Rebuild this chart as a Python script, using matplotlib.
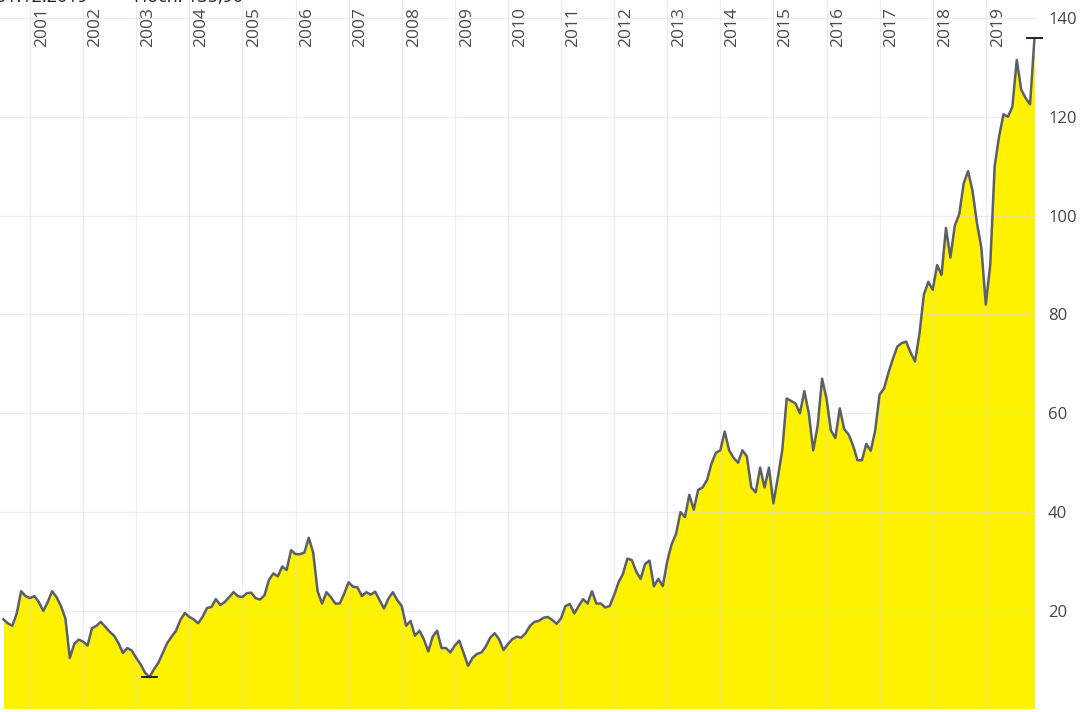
import numpy as np
import matplotlib
matplotlib.use("Agg")
import matplotlib.pyplot as plt

plt.rcParams['font.family'] = ['Open Sans', 'DejaVu Sans']

# monthly closing values, first point July 2000
kurs = [
    18.3, 17.5, 17.0, 19.5, 24.0, 23.0, 22.6, 23.0, 21.8, 20.0, 21.8, 24.0,
    22.8, 21.0, 18.5, 10.5, 13.3, 14.2, 13.8, 13.0, 16.5, 17.0, 17.8, 16.8,
    15.8, 15.0, 13.5, 11.5, 12.5, 12.0, 10.5, 9.2, 7.5, 6.6, 8.2, 9.5,
    11.5, 13.5, 14.8, 16.0, 18.2, 19.6, 18.8, 18.3, 17.5, 18.8, 20.6, 20.8,
    22.4, 21.2, 21.8, 22.8, 23.8, 23.0, 22.8, 23.6, 23.7, 22.6, 22.3, 23.2,
    26.3, 27.6, 27.0, 29.0, 28.3, 32.3, 31.5, 31.5, 31.8, 34.8, 31.8, 24.0,
    21.5, 23.8, 22.8, 21.5, 21.5, 23.5, 25.8, 24.9, 24.8, 23.0, 23.8, 23.3,
    23.9, 22.2, 20.5, 22.5, 23.8, 22.2, 21.0, 17.0, 18.0, 15.0, 16.0, 14.3,
    11.8, 14.8, 16.0, 12.5, 12.5, 11.6, 13.0, 14.0, 11.5, 8.9, 10.5, 11.3,
    11.6, 12.8, 14.6, 15.5, 14.3, 12.1, 13.3, 14.3, 14.8, 14.6, 15.5, 17.0,
    17.8, 18.0, 18.6, 18.8, 18.2, 17.4, 18.5, 21.0, 21.4, 19.5, 21.0, 22.4,
    21.5, 24.0, 21.5, 21.5, 20.7, 21.0, 23.2, 25.8, 27.5, 30.6, 30.3, 28.0,
    26.5, 29.5, 30.2, 25.0, 26.5, 25.0, 30.0, 33.5, 35.6, 40.0, 39.0, 43.5,
    40.5, 44.5, 45.0, 46.5, 49.8, 52.0, 52.5, 56.3, 52.5, 51.0, 50.0, 52.5,
    51.3, 45.0, 44.0, 49.0, 45.0, 49.0, 41.8, 47.0, 52.5, 63.0, 62.5, 62.0,
    60.0, 64.5, 60.0, 52.5, 57.5, 67.0, 63.0, 56.5, 55.0, 61.0, 56.8, 55.7,
    53.5, 50.5, 50.5, 53.8, 52.4, 56.5, 63.8, 65.0, 68.2, 71.0, 73.5, 74.2,
    74.5, 72.3, 70.5, 76.0, 84.0, 86.6, 85.0, 90.0, 88.0, 97.5, 91.5, 98.0,
    100.3, 106.5, 109.0, 105.0, 98.5, 93.5, 82.0, 90.0, 110.0, 116.0, 120.5, 120.0,
    122.0, 131.5, 125.5, 123.8, 122.5, 135.9,
]
start_year = 2000.5
jahre = list(range(2001, 2020))
y_ticks = [20, 40, 60, 80, 100, 120, 140]
kopf = "31.12.2019          Hoch: 135,90"

kurs = np.array(kurs)
t = start_year + np.arange(len(kurs)) / 12.0

fig = plt.figure(figsize=(10.8, 7.12), dpi=100)
ax = fig.add_axes([0, 4/712, 1037/1080, 708/712])

ax.fill_between(t, 0, kurs, color='#fff200', lw=0, zorder=1)
ax.plot(t, kurs, color='#5b5f6a', lw=1.8, zorder=3)

# grid on top of the fill
for j in jahre:
    ax.axvline(j, color='#dcdcdc', lw=0.9, alpha=0.5, zorder=2)
for v in y_ticks:
    ax.axhline(v, color='#dcdcdc', lw=0.9, alpha=0.5, zorder=2)

# min / max markers
imin = kurs.argmin()
imax = kurs.argmax()
ax.plot([t[imin] - 0.14, t[imin] + 0.14], [kurs[imin]] * 2, color='#222222', lw=1.4, zorder=4)
ax.plot([t[imax] - 0.14, t[imax] + 0.14], [kurs[imax]] * 2, color='#222222', lw=1.4,
        zorder=4, clip_on=False)

ax.set_xlim(2001 - 30/53.1, 2001 + 1007/53.1)
ax.set_ylim((709.8 - 708) / 4.942, 709.8 / 4.942)

for j in jahre:
    ax.text(j + 0.226, 1 - 7/708, str(j), rotation=90, ha='center', va='top',
            transform=ax.get_xaxis_transform(), fontsize=12.5, color='#4a4a4a', zorder=5)

ax.yaxis.tick_right()
ax.set_yticks(y_ticks)
ax.tick_params(axis='y', length=0, pad=8, labelsize=12, labelcolor='#444444')
ax.set_xticks([])
for s in ax.spines.values():
    s.set_visible(False)

fig.text(-0.004, 1 - 2.5/712, kopf, ha='left', va='baseline', fontsize=13, color='#222222')

plt.savefig("out.png", dpi=100)
plt.close()
